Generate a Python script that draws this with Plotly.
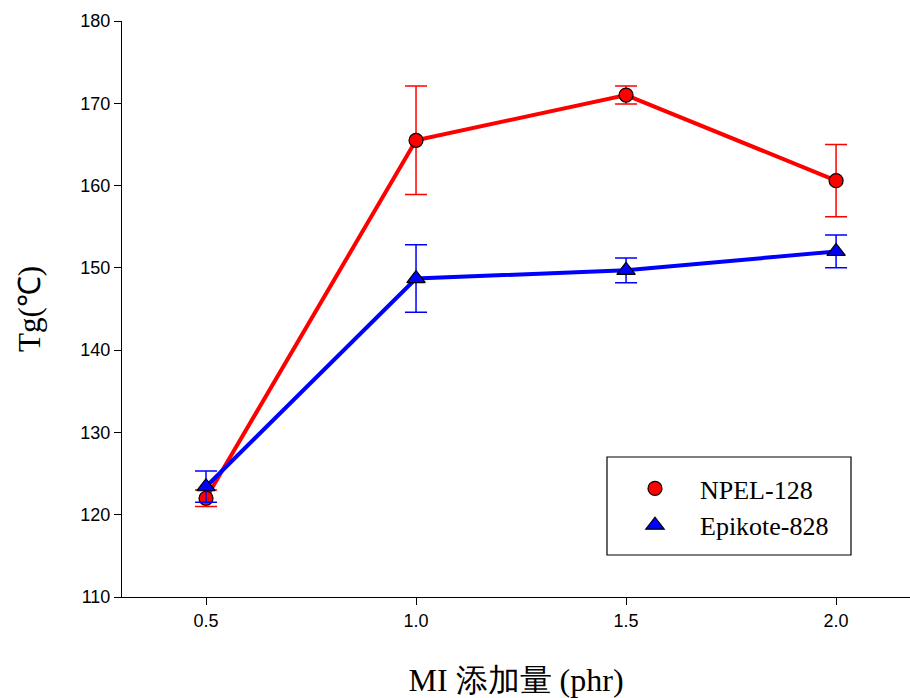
import plotly.graph_objects as go

# MI loading (phr)
mi_phr = [0.5, 1.0, 1.5, 2.0]

# Glass transition temperature (°C) with standard deviations
npel_tg = [122.0, 165.5, 171.0, 160.6]
npel_err = [1.0, 6.6, 1.1, 4.4]
epikote_tg = [123.4, 148.7, 149.7, 152.0]
epikote_err = [1.9, 4.1, 1.5, 2.0]

series_names = ["NPEL-128", "Epikote-828"]
y_ticks = [110, 120, 130, 140, 150, 160, 170, 180]
x_ticks = [0.5, 1.0, 1.5, 2.0]

serif = "Liberation Serif"
sans = "Liberation Sans"

fig = go.Figure()

fig.add_trace(go.Scatter(
    x=mi_phr, y=npel_tg, mode="lines+markers", showlegend=False,
    line=dict(color="#ff0000", width=4),
    marker=dict(symbol="circle", size=14, color="#ff0000",
                line=dict(color="black", width=1.2)),
    error_y=dict(type="data", array=npel_err, color="#ff0000",
                 thickness=1.5, width=11),
))
fig.add_trace(go.Scatter(
    x=mi_phr, y=epikote_tg, mode="lines+markers", showlegend=False,
    line=dict(color="#0000ff", width=4),
    marker=dict(symbol="triangle-up", size=16, color="#0000ff",
                line=dict(color="black", width=1.2)),
    error_y=dict(type="data", array=epikote_err, color="#0000ff",
                 thickness=1.5, width=11),
))

# Marker-only legend entries
fig.add_trace(go.Scatter(
    x=[None], y=[None], mode="markers", name=series_names[0],
    marker=dict(symbol="circle", size=14, color="#ff0000",
                line=dict(color="black", width=1.2)),
))
fig.add_trace(go.Scatter(
    x=[None], y=[None], mode="markers", name=series_names[1],
    marker=dict(symbol="triangle-up", size=16, color="#0000ff",
                line=dict(color="black", width=1.2)),
))

# Legend frame
fig.add_shape(type="rect", xref="paper", yref="paper",
              x0=(607 - 122) / 788, x1=(851 - 122) / 788,
              y0=(597 - 555) / 576, y1=(597 - 457) / 576,
              line=dict(color="black", width=1.2), fillcolor="rgba(0,0,0,0)")

fig.update_layout(
    width=910, height=698,
    margin=dict(l=122, r=0, t=21, b=101),
    plot_bgcolor="white", paper_bgcolor="white",
    showlegend=True,
    legend=dict(
        x=(610 - 122) / 788, y=(597 - 465) / 576,
        xanchor="left", yanchor="top",
        bgcolor="rgba(0,0,0,0)", borderwidth=0,
        font=dict(family=serif, size=26, color="black"),
        itemwidth=80, tracegroupgap=0,
    ),
    xaxis=dict(
        range=[0.3, 2.176], tickvals=x_ticks,
        ticktext=[f"{v:.1f}" for v in x_ticks],
        showgrid=False, zeroline=False,
        showline=True, linecolor="black", linewidth=1,
        ticks="outside", ticklen=7, tickcolor="black",
        tickfont=dict(family=sans, size=18, color="black"),
        title=dict(text="MI 添加量 (phr)", standoff=40,
                   font=dict(family=serif, size=32, color="black")),
    ),
    yaxis=dict(
        range=[110, 180], tickvals=y_ticks,
        showgrid=False, zeroline=False,
        showline=True, linecolor="black", linewidth=1,
        ticks="outside", ticklen=7, tickcolor="black",
        tickfont=dict(family=sans, size=18, color="black"),
        title=dict(text="Tg(℃)", standoff=30,
                   font=dict(family=serif, size=31, color="black")),
    ),
)

fig.write_html("out.html")
